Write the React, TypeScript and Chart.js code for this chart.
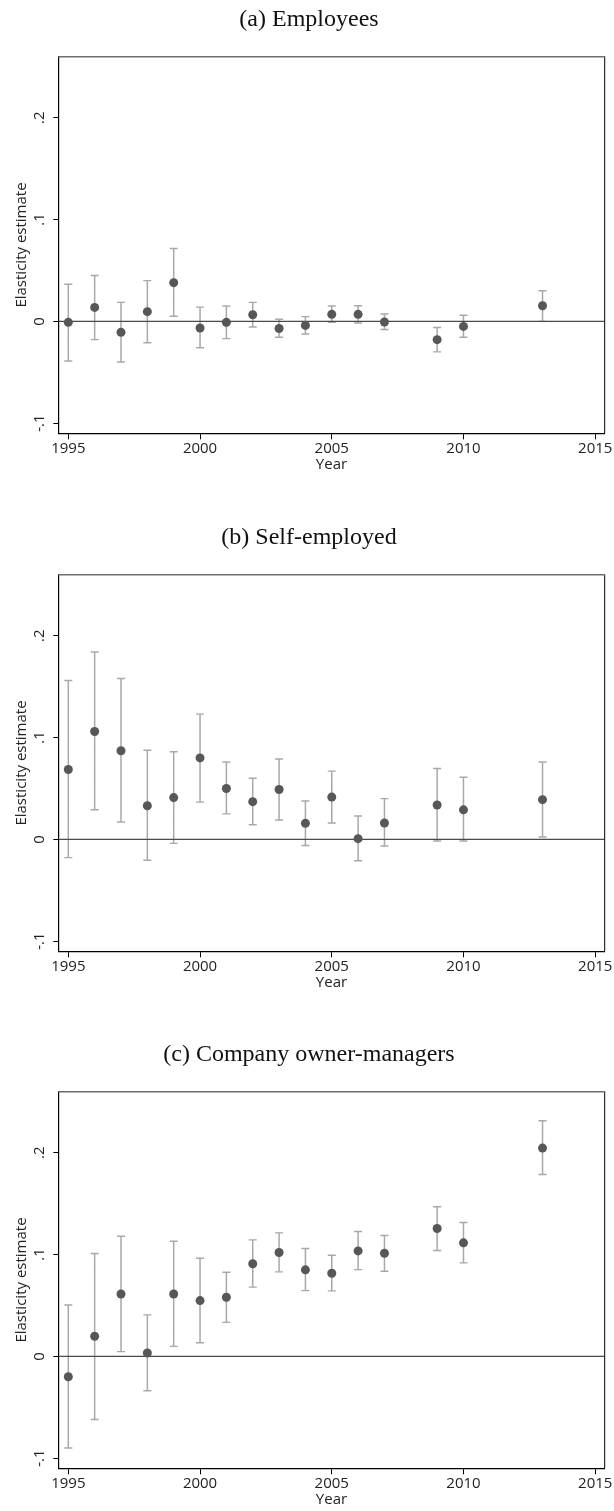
import { useEffect, useRef } from "react";
import { Chart, registerables } from "chart.js";

Chart.register(...registerables);

// survey years with estimates (2008, 2011 and 2012 are missing)
const years = [1995, 1996, 1997, 1998, 1999, 2000, 2001, 2002, 2003, 2004, 2005, 2006, 2007, 2009, 2010, 2013];

const employeesEst = [-0.001, 0.0137, -0.0108, 0.0095, 0.038, -0.0065, -0.001, 0.0065, -0.007, -0.004, 0.0069, 0.0069, -0.0007, -0.018, -0.005, 0.0153];
const employeesLo = [-0.039, -0.018, -0.04, -0.021, 0.005, -0.026, -0.017, -0.0055, -0.0157, -0.0124, -0.001, -0.0016, -0.008, -0.03, -0.0157, 0.0];
const employeesHi = [0.0365, 0.045, 0.0186, 0.04, 0.0715, 0.014, 0.015, 0.0186, 0.002, 0.0046, 0.015, 0.0153, 0.0072, -0.006, 0.006, 0.03];

const selfEst = [0.0686, 0.106, 0.087, 0.033, 0.041, 0.08, 0.05, 0.037, 0.049, 0.0157, 0.0415, 0.0007, 0.016, 0.0337, 0.029, 0.039];
const selfLo = [-0.018, 0.029, 0.017, -0.0206, -0.004, 0.0366, 0.025, 0.0144, 0.019, -0.006, 0.016, -0.021, -0.0065, -0.0016, -0.0016, 0.0023];
const selfHi = [0.156, 0.184, 0.158, 0.0876, 0.086, 0.123, 0.076, 0.06, 0.079, 0.0376, 0.067, 0.023, 0.04, 0.0696, 0.061, 0.076];

const ownerEst = [-0.02, 0.0197, 0.0613, 0.0033, 0.0613, 0.0548, 0.058, 0.091, 0.102, 0.085, 0.0816, 0.1036, 0.1013, 0.1256, 0.1115, 0.2046];
const ownerLo = [-0.09, -0.062, 0.0046, -0.0338, 0.0098, 0.0134, 0.0334, 0.068, 0.083, 0.0646, 0.0643, 0.0852, 0.0836, 0.104, 0.0918, 0.1787];
const ownerHi = [0.0505, 0.101, 0.118, 0.0407, 0.113, 0.0964, 0.0826, 0.1144, 0.1213, 0.106, 0.0993, 0.1226, 0.1187, 0.147, 0.1315, 0.2315];

const panelTitles = ["(a) Employees", "(b) Self-employed", "(c) Company owner-managers"];

const xTicks = [1995, 2000, 2005, 2010, 2015];
const yTicks = [-0.1, 0, 0.1, 0.2];
const yTickLabels = ["-.1", "0", ".1", ".2"];

const X_MIN = 1994.62;
const X_MAX = 2015.36;
const Y_MIN = -0.11;
const Y_MAX = 0.26;

const PANEL_STEP = 517.6;
const CANVAS_H = 518;

const axisFont = { family: "'Open Sans', sans-serif", size: 15 };
const textColor = "#222";

// top and right sides of the plot box
const framePlugin = {
  id: "frame",
  afterDraw(chart: Chart) {
    const { ctx, chartArea } = chart;
    const { left, right, top, bottom } = chartArea;
    ctx.save();
    ctx.strokeStyle = "#000";
    ctx.lineWidth = 1;
    ctx.beginPath();
    ctx.moveTo(right, top);
    ctx.lineTo(right, bottom);
    ctx.stroke();
    ctx.strokeStyle = "#6e6e6e";
    ctx.lineWidth = 1.6;
    ctx.beginPath();
    ctx.moveTo(left, top);
    ctx.lineTo(right + 0.5, top);
    ctx.stroke();
    ctx.restore();
  },
};

function Panel({ title, est, lo, hi, index }: { title: string; est: number[]; lo: number[]; hi: number[]; index: number }) {
  const chartRef = useRef<HTMLCanvasElement | null>(null);

  useEffect(() => {
    if (!chartRef.current) return;
    const ctx = chartRef.current.getContext("2d");
    if (!ctx) return;

    const chart = new Chart(ctx, {
      type: "line",
      data: {
        datasets: [
          {
            type: "scatter",
            label: "estimate",
            data: years.map((x, i) => ({ x, y: est[i] })),
            pointRadius: 4.5,
            pointBackgroundColor: "#575757",
            pointBorderWidth: 0,
            order: 0,
          },
          {
            type: "line",
            label: "zero",
            data: [
              { x: X_MIN, y: 0 },
              { x: X_MAX, y: 0 },
            ],
            borderColor: "#4a4a4a",
            borderWidth: 1.3,
            pointRadius: 0,
            order: 1,
          },
          {
            type: "scatter",
            label: "caps",
            data: years.flatMap((x, i) => [
              { x, y: lo[i] },
              { x, y: hi[i] },
            ]),
            pointStyle: "line",
            pointRadius: 4,
            pointBorderWidth: 1.4,
            pointBorderColor: "#a8a8a8",
            order: 2,
          },
          {
            type: "line",
            label: "ci",
            data: years.flatMap((x, i) => [
              { x, y: lo[i] },
              { x, y: hi[i] },
              { x, y: null },
            ]),
            borderColor: "#a8a8a8",
            borderWidth: 1.5,
            pointRadius: 0,
            spanGaps: false,
            order: 3,
          },
        ],
      },
      options: {
        animation: false,
        responsive: false,
        layout: { padding: { left: 0, top: 56.7, right: 9.3, bottom: 0 } },
        plugins: {
          legend: { display: false },
          tooltip: { enabled: false },
        },
        scales: {
          x: {
            type: "linear",
            min: X_MIN,
            max: X_MAX,
            afterBuildTicks: (s: any) => {
              s.ticks = xTicks.map((v) => ({ value: v }));
            },
            afterFit: (s: any) => {
              s.height = CANVAS_H - 433.3;
              s.paddingLeft = 0;
              s.paddingRight = 0;
            },
            ticks: {
              callback: (v: any) => String(v),
              font: axisFont,
              color: textColor,
              padding: 0.5,
              maxRotation: 0,
              autoSkip: false,
            },
            grid: { drawOnChartArea: false, drawTicks: true, tickLength: 6, color: "#000", lineWidth: 1 },
            border: { color: "#000", width: 1.2 },
            title: {
              display: true,
              text: "Year",
              font: axisFont,
              color: textColor,
              padding: { top: 0, bottom: CANVAS_H - 464.5 - 9 },
            },
          },
          y: {
            type: "linear",
            min: Y_MIN,
            max: Y_MAX,
            afterBuildTicks: (s: any) => {
              s.ticks = yTicks.map((v) => ({ value: v }));
            },
            afterFit: (s: any) => {
              s.width = 58.3;
              s.paddingTop = 0;
              s.paddingBottom = 0;
            },
            ticks: {
              callback: (_v: any, i: number) => yTickLabels[i],
              font: axisFont,
              color: textColor,
              minRotation: 90,
              maxRotation: 90,
              crossAlign: "center",
              padding: 4.6,
            },
            grid: { drawOnChartArea: false, drawTicks: true, tickLength: 5, color: "#000", lineWidth: 1 },
            border: { color: "#000", width: 1.2 },
            title: {
              display: true,
              text: "Elasticity estimate",
              font: axisFont,
              color: textColor,
              padding: { top: 12.8, bottom: 0 },
            },
          },
        },
      },
      plugins: [framePlugin],
    } as any);

    return () => {
      chart.destroy();
    };
  }, [est, lo, hi]);

  return (
    <div style={{ position: "absolute", left: 0, top: index * PANEL_STEP, width: 614, height: CANVAS_H }}>
      <canvas ref={chartRef} width={614} height={CANVAS_H} style={{ position: "absolute", left: 0, top: 0 }}></canvas>
      <div
        style={{
          position: "absolute",
          left: 2,
          top: 6,
          width: 614,
          textAlign: "center",
          fontFamily: "'Liberation Serif', serif",
          fontSize: 24,
          lineHeight: "25px",
          color: "#111",
        }}
      >
        {title}
      </div>
    </div>
  );
}

export default function App() {
  return (
    <div style={{ position: "absolute", left: 0, top: 0, width: 614, height: 1511, background: "#fff" }}>
      <Panel index={0} title={panelTitles[0]} est={employeesEst} lo={employeesLo} hi={employeesHi} />
      <Panel index={1} title={panelTitles[1]} est={selfEst} lo={selfLo} hi={selfHi} />
      <Panel index={2} title={panelTitles[2]} est={ownerEst} lo={ownerLo} hi={ownerHi} />
    </div>
  );
}
